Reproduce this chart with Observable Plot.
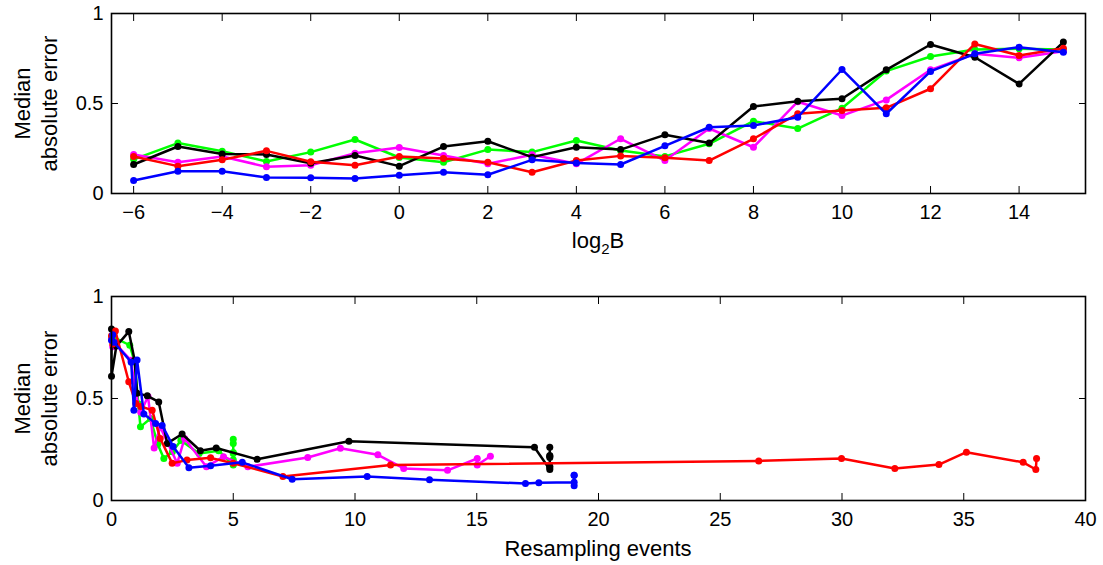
<!DOCTYPE html>
<html><head><meta charset="utf-8">
<script src="https://cdn.jsdelivr.net/npm/d3@7"></script>
<script src="https://cdn.jsdelivr.net/npm/@observablehq/plot@0.6"></script>
<style>
body{margin:0;background:#fff;font-family:"Liberation Sans",Arial,sans-serif;}
#wrap{position:relative;width:1103px;height:565px;overflow:hidden;}
#wrap svg{display:block;}
.lab{position:absolute;font-size:22px;line-height:24px;color:#000;white-space:nowrap;transform:translateX(-50%);}
.lab sub{font-size:15px;vertical-align:-6px;line-height:0;}
</style></head><body>
<div id="wrap"></div>
<script>
// ---- data ----
const log2B = [-6,-5,-4,-3,-2,-1,0,1,2,3,4,5,6,7,8,9,10,11,12,13,14,15];
const seriesNames = ["green","magenta","black","red","blue"];
const seriesColors = ["#00ff00","#ff00ff","#000000","#ff0000","#0000ff"];
// median absolute error per log2B
const errGreen   = [0.19,0.28,0.235,0.178,0.23,0.30,0.20,0.174,0.244,0.23,0.294,0.239,0.206,0.276,0.402,0.361,0.474,0.68,0.761,0.80,0.804,0.80];
const errMagenta = [0.217,0.174,0.206,0.148,0.157,0.224,0.256,0.211,0.165,0.215,0.165,0.304,0.183,0.361,0.257,0.51,0.433,0.52,0.687,0.776,0.754,0.79];
const errBlack   = [0.161,0.261,0.22,0.217,0.168,0.211,0.152,0.261,0.29,0.202,0.257,0.244,0.326,0.28,0.483,0.513,0.526,0.687,0.828,0.757,0.609,0.841];
const errRed     = [0.206,0.152,0.187,0.237,0.176,0.157,0.206,0.194,0.174,0.118,0.183,0.209,0.198,0.183,0.304,0.443,0.461,0.476,0.582,0.831,0.767,0.807];
const errBlue    = [0.072,0.124,0.124,0.089,0.087,0.083,0.102,0.118,0.104,0.187,0.17,0.161,0.265,0.368,0.378,0.424,0.689,0.443,0.678,0.776,0.813,0.785];
// resampling events per log2B
const evGreen   = [5,5,5,5,5,5,5,5,4.4,3.6,2.85,2.5,2.15,1.9,1.6,1.19,1.1,0.95,0.75,0.1,0.05,0];
const evMagenta = [15.56,15.02,15.02,13.8,12.0,10.94,9.4,8.06,5.6,4.6,3.9,3.0,2.7,2.0,1.75,1.5,1.2,1.0,0.8,0.1,0.05,0];
const evBlack   = [18,18,18,18,18,18,18,17.37,9.75,5.98,4.3,3.65,2.9,2.29,1.94,1.47,1.05,0.95,0.71,0.2,0,0];
const evRed     = [37.99,37.96,37.44,35.11,33.98,32.17,29.98,26.58,11.46,7.04,5.0,4.07,3.1,2.49,2.0,1.67,1.2,1.0,0.71,0.16,0.05,0];
const evBlue    = [19,19,19,19,17.55,17.0,13.06,10.5,7.42,5.37,4.07,3.18,2.53,2.08,1.81,1.33,1.05,0.92,0.81,0.1,0.05,0];
const xTicksTop = [-6,-4,-2,0,2,4,6,8,10,12,14];
const xTicksBottom = [0,5,10,15,20,25,30,35,40];
const yTicks = [0,0.5,1];

const errs = [errGreen,errMagenta,errBlack,errRed,errBlue];
const evs = [evGreen,evMagenta,evBlack,evRed,evBlue];
const rows = seriesNames.map((s,i)=>log2B.map((b,j)=>({series:s,B:b,err:errs[i][j],events:evs[i][j]})));

const font = "'Liberation Sans', Arial, Helvetica, sans-serif";
const fmtNum = d => d < 0 ? "\u2212" + (-d) : String(d);

function seriesMarks(xKey){
  const m = [];
  rows.forEach((r,i)=>{
    m.push(Plot.line(r,{x:xKey,y:"err",stroke:seriesColors[i],strokeWidth:2.5,strokeLinejoin:"round"}));
    m.push(Plot.dot(r,{x:xKey,y:"err",fill:seriesColors[i],r:3.5,stroke:"none"}));
  });
  return m;
}
function axes(xTicks, fmt){
  return [
    Plot.axisX({ticks:xTicks,tickSize:0,tickPadding:11,tickFormat:fmt,label:null,fontSize:20}),
    Plot.axisX({ticks:xTicks,tickSize:-7,tickFormat:()=>"",label:null}),
    Plot.axisX({anchor:"top",ticks:xTicks,tickSize:-7,tickFormat:()=>"",label:null}),
    Plot.axisY({ticks:yTicks,tickSize:0,tickPadding:8,tickFormat:d=>String(d),label:null,fontSize:20}),
    Plot.axisY({ticks:yTicks,tickSize:-7,tickFormat:()=>"",label:null}),
    Plot.axisY({anchor:"right",ticks:yTicks,tickSize:-7,tickFormat:()=>"",label:null}),
  ];
}
const ylab = () => Plot.text(["Median\nabsolute error"],{frameAnchor:"left",dx:-77,rotate:-90,textAnchor:"middle",lineAnchor:"middle",fontSize:22,lineHeight:1.23,fill:"#000"});

const plotTop = Plot.plot({
  width:1103,height:282,marginTop:13,marginBottom:89,marginLeft:111,marginRight:18,
  style:{fontFamily:font,fontSize:"20px",color:"#000",background:"#fff",overflow:"visible"},
  x:{domain:[-6.5,15.5]}, y:{domain:[0,1]},
  marks:[
    ...seriesMarks("B"),
    Plot.frame({stroke:"#000",strokeWidth:1.6}),
    ...axes(xTicksTop, fmtNum),
    ylab()
  ]
});
const plotBottom = Plot.plot({
  width:1103,height:283,marginTop:14,marginBottom:65,marginLeft:111,marginRight:18,
  style:{fontFamily:font,fontSize:"20px",color:"#000",background:"#fff",overflow:"visible"},
  x:{domain:[0,40]}, y:{domain:[0,1]},
  marks:[
    ...seriesMarks("events"),
    Plot.frame({stroke:"#000",strokeWidth:1.6}),
    ...axes(xTicksBottom, d=>String(d)),
    ylab()
  ]
});
const wrap = document.getElementById("wrap");
wrap.appendChild(plotTop);
wrap.appendChild(plotBottom);
const l1 = document.createElement("div");
l1.className="lab"; l1.style.left="598px"; l1.style.top="229px";
l1.innerHTML="log<sub>2</sub>B";
wrap.appendChild(l1);
const l2 = document.createElement("div");
l2.className="lab"; l2.style.left="598px"; l2.style.top="537px";
l2.textContent="Resampling events";
wrap.appendChild(l2);
</script>
</body></html>
